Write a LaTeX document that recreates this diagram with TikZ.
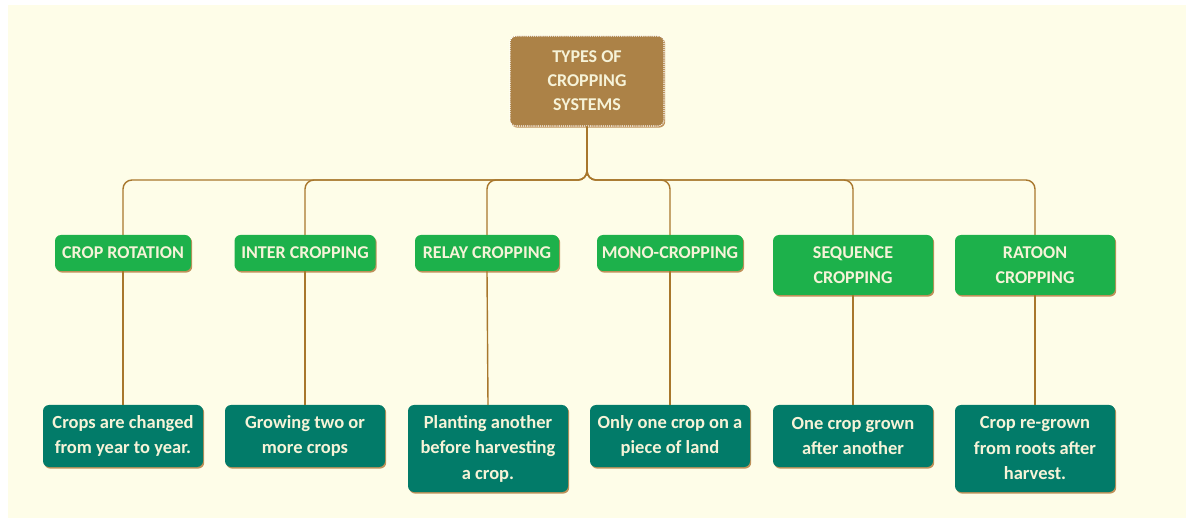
\documentclass[tikz,border=0pt]{standalone}
\usepackage{fontspec}
\setmainfont{Carlito}
\usetikzlibrary{shadows}
\definecolor{bgcream}{HTML}{FEFDE8}
\definecolor{rootbrown}{HTML}{AC8247}
\definecolor{catgreen}{HTML}{1DB14B}
\definecolor{descteal}{HTML}{027B69}
\definecolor{txtcream}{HTML}{F6F3D8}
\definecolor{linegold}{HTML}{A8772C}
\definecolor{shadowbrown}{HTML}{B8864A}
\begin{document}
\begin{tikzpicture}[x=1pt,y=-1pt,
  boxbase/.style={rounded corners=6pt, text=txtcream, align=center, inner sep=0pt,
    font=\bfseries\fontsize{18.5}{25.5}\selectfont,
    drop shadow={shadow xshift=1.2pt, shadow yshift=-1.6pt, fill=shadowbrown, opacity=0.9}},
  rootbox/.style={boxbase, fill=rootbrown, draw=white, densely dotted, line width=1.1pt,
    minimum width=154pt, minimum height=90pt, font=\bfseries\fontsize{18}{24}\selectfont},
  catbox/.style={boxbase, fill=catgreen, minimum height=36pt, font=\bfseries\fontsize{18}{25}\selectfont},
  descbox/.style={boxbase, fill=descteal, minimum width=160pt},
  conn/.style={draw=linegold, line width=1.4pt, rounded corners=9pt}
]
\useasboundingbox (0,0) rectangle (1186,518);
\fill[bgcream] (8,5) rectangle (1186,518);

\node[rootbox] (root) at (587,81) {TYPES OF\\CROPPING\\SYSTEMS};

\node[catbox, minimum width=136pt] (c1) at (123,253) {CROP ROTATION};
\node[catbox, minimum width=141pt] (c2) at (305,253) {INTER CROPPING};
\node[catbox, minimum width=144pt] (c3) at (487,253) {RELAY CROPPING};
\node[catbox, minimum width=146pt] (c4) at (670,253) {MONO-CROPPING};
\node[catbox, minimum width=160pt, minimum height=60pt] (c5) at (853,265) {SEQUENCE\\CROPPING};
\node[catbox, minimum width=160pt, minimum height=60pt] (c6) at (1035,265) {RATOON\\CROPPING};

\node[descbox, minimum height=62pt] (d1) at (123,436) {Crops are changed\\from year to year.};
\node[descbox, minimum height=62pt] (d2) at (305,436) {Growing two or\\more crops};
\node[descbox, minimum height=87pt] (d3) at (488,448.5) {Planting another\\before harvesting\\a crop.};
\node[descbox, minimum height=62pt] (d4) at (670,436) {Only one crop on a\\piece of land};
\node[descbox, minimum height=62pt] (d5) at (853,436) {One crop grown\\after another};
\node[descbox, minimum height=87pt] (d6) at (1035,448.5) {Crop re-grown\\from roots after\\harvest.};

\coordinate (bus) at (587,180);
\foreach \c in {c1,c2,c3,c4,c5,c6}{
  \path[conn] (root.south) |- (bus -| \c.north) -- (\c.north);
}
\foreach \c/\d in {c1/d1,c2/d2,c3/d3,c4/d4,c5/d5,c6/d6}{
  \path[conn] (\c.south) -- (\d.north);
}
\end{tikzpicture}
\end{document}
